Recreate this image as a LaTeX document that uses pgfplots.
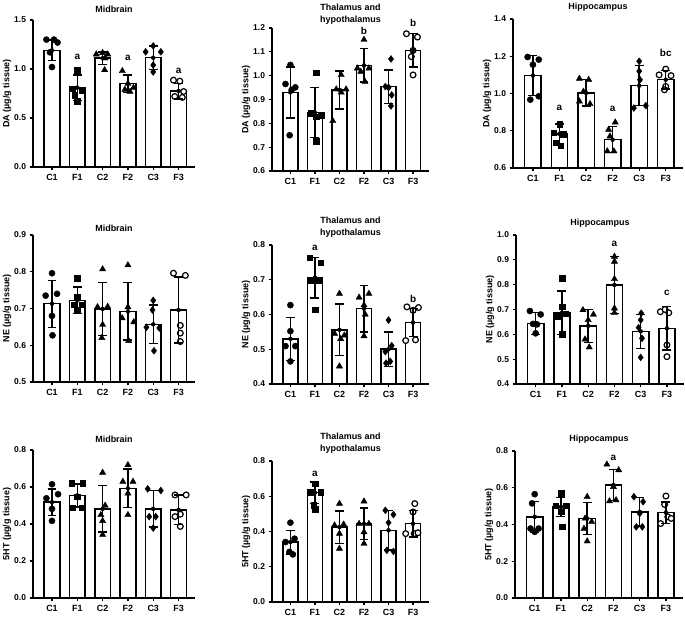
\documentclass[border=0pt]{standalone}
\usepackage{fontspec}
\setmainfont{Liberation Sans}
\usepackage{pgfplots}
\usepackage{pgfplotstable}
\pgfplotsset{compat=1.18}

% bar tables: x mean sd ; point tables: g dx y
\pgfplotstableread{
x y e
0 1.19 0.105
1 0.81 0.13
2 1.11 0.065
3 0.85 0.09
4 1.115 0.12
5 0.775 0.08
}\barsA
\pgfplotstableread{
g dx y
0 -0.22 1.30
0 0.08 1.30
0 0.22 1.27
0 -0.08 1.17
0 0.0 1.02
1 0.0 0.99
1 -0.2 0.80
1 0.2 0.78
1 -0.1 0.73
1 0.0 0.67
2 -0.25 1.15
2 0.0 1.165
2 0.2 1.15
2 0.1 1.11
2 0.08 0.99
3 -0.22 0.98
3 0.0 0.85
3 0.22 0.81
3 -0.12 0.79
3 0.08 0.77
4 0.0 1.235
4 -0.3 1.175
4 0.3 1.175
4 0.0 1.04
4 0.0 0.97
5 -0.2 0.886
5 0.05 0.876
5 0.2 0.77
5 -0.15 0.72
5 0.15 0.71
}\ptsA

\pgfplotstableread{
x y e
0 0.93 0.107
1 0.845 0.105
2 0.94 0.08
3 1.043 0.07
4 0.954 0.07
5 1.106 0.07
}\barsB
\pgfplotstableread{
g dx y
0 0.0 1.045
0 -0.2 0.965
0 0.2 0.951
0 0.05 0.94
0 -0.03 0.75
1 0.04 1.013
1 -0.17 0.842
1 0.25 0.835
1 0.05 0.828
1 0.04 0.726
2 0.07 1.003
2 -0.13 0.943
2 0.27 0.943
2 0.07 0.93
2 -0.27 0.81
3 0.0 1.151
3 -0.27 1.031
3 0.2 1.031
3 -0.13 1.017
3 0.04 0.975
4 0.1 1.07
4 -0.13 0.954
4 0.13 0.919
4 0.1 0.873
4 0.0 0.95
5 -0.27 1.176
5 0.18 1.162
5 0.0 1.106
5 -0.07 1.08
5 0.0 1.003
}\ptsB

\pgfplotstableread{
x y e
0 1.096 0.107
1 0.783 0.053
2 1.003 0.071
3 0.752 0.07
4 1.042 0.107
5 1.074 0.05
}\barsC
\pgfplotstableread{
g dx y
0 -0.2 1.196
0 0.22 1.182
0 0.0 1.155
0 -0.1 0.967
0 0.22 0.985
1 0.0 0.835
1 -0.22 0.79
1 0.15 0.78
1 -0.15 0.735
1 0.05 0.72
2 -0.25 1.08
2 0.1 1.074
2 -0.1 1.01
2 -0.25 0.958
2 0.15 0.944
3 -0.15 0.806
3 0.1 0.845
3 -0.1 0.77
3 -0.2 0.69
3 0.05 0.69
4 0.0 1.173
4 0.0 1.12
4 0.03 1.074
4 -0.2 0.922
4 0.25 0.935
5 0.0 1.131
5 -0.25 1.10
5 0.2 1.096
5 0.0 1.038
5 -0.05 1.02
}\ptsC

\pgfplotstableread{
x y e
0 0.713 0.064
1 0.722 0.036
2 0.699 0.072
3 0.692 0.078
4 0.657 0.052
5 0.696 0.09
}\barsD
\pgfplotstableread{
g dx y
0 0.0 0.796
0 -0.25 0.735
0 0.2 0.74
0 0.0 0.68
0 0.02 0.627
1 0.0 0.782
1 0.0 0.73
1 -0.15 0.71
1 0.17 0.71
1 0.0 0.696
2 0.0 0.807
2 -0.2 0.704
2 0.2 0.705
2 0.0 0.656
2 -0.03 0.62
3 0.0 0.818
3 -0.23 0.674
3 0.0 0.704
3 0.23 0.663
3 0.03 0.612
4 0.0 0.722
4 -0.03 0.696
4 -0.27 0.649
4 0.24 0.647
4 0.03 0.585
5 -0.2 0.796
5 0.27 0.79
5 0.07 0.654
5 0.07 0.633
5 0.07 0.61
}\ptsD

\pgfplotstableread{
x y e
0 0.53 0.062
1 0.706 0.058
2 0.556 0.074
3 0.617 0.067
4 0.5 0.05
5 0.577 0.04
}\barsE
\pgfplotstableread{
g dx y
0 0.0 0.627
0 0.0 0.552
0 -0.2 0.509
0 0.2 0.509
0 0.0 0.465
1 -0.22 0.763
1 0.24 0.749
1 -0.18 0.698
1 0.17 0.698
1 0.0 0.614
2 0.0 0.66
2 -0.2 0.545
2 0.2 0.54
2 0.05 0.53
2 0.0 0.451
3 -0.2 0.649
3 0.2 0.66
3 0.0 0.627
3 0.05 0.60
3 0.0 0.538
4 0.0 0.584
4 0.13 0.51
4 -0.13 0.493
4 0.07 0.465
4 -0.1 0.46
5 -0.25 0.622
5 0.22 0.62
5 0.0 0.612
5 -0.3 0.525
5 0.1 0.527
}\ptsE

\pgfplotstableread{
x y e
0 0.644 0.044
1 0.687 0.088
2 0.634 0.067
3 0.799 0.114
4 0.612 0.068
5 0.624 0.087
}\barsF
\pgfplotstableread{
g dx y
0 -0.22 0.694
0 0.19 0.68
0 -0.1 0.642
0 0.05 0.64
0 0.0 0.604
1 0.0 0.825
1 0.0 0.711
1 -0.16 0.674
1 0.15 0.683
1 0.0 0.601
2 -0.2 0.698
2 0.2 0.68
2 0.0 0.658
2 -0.12 0.58
2 0.04 0.548
3 0.0 0.913
3 0.0 0.893
3 0.0 0.823
3 0.0 0.705
3 0.0 0.687
4 0.02 0.685
4 0.0 0.658
4 -0.08 0.627
4 0.05 0.584
4 0.0 0.507
5 -0.25 0.691
5 0.07 0.687
5 -0.07 0.70
5 0.0 0.557
5 0.0 0.51
}\ptsF

\pgfplotstableread{
x y e
0 0.518 0.072
1 0.554 0.063
2 0.482 0.126
3 0.593 0.105
4 0.482 0.099
5 0.476 0.08
}\barsG
\pgfplotstableread{
g dx y
0 0.0 0.615
0 0.24 0.561
0 -0.22 0.539
0 0.0 0.482
0 0.0 0.417
1 -0.22 0.62
1 0.22 0.62
1 0.0 0.548
1 -0.18 0.489
1 0.18 0.489
2 0.0 0.678
2 0.1 0.50
2 -0.07 0.449
2 0.0 0.417
2 0.0 0.342
3 0.0 0.719
3 -0.2 0.629
3 0.2 0.629
3 0.0 0.566
3 0.0 0.449
4 -0.22 0.59
4 0.3 0.581
4 -0.16 0.44
4 0.1 0.44
4 0.0 0.378
5 -0.14 0.557
5 0.3 0.557
5 0.07 0.453
5 -0.14 0.44
5 0.07 0.387
}\ptsG

\pgfplotstableread{
x y e
0 0.34 0.067
1 0.62 0.06
2 0.425 0.092
3 0.444 0.09
4 0.407 0.113
5 0.444 0.076
}\barsH
\pgfplotstableread{
g dx y
0 0.0 0.45
0 -0.2 0.34
0 0.17 0.359
0 -0.04 0.284
0 0.1 0.27
1 0.0 0.671
1 0.24 0.624
1 -0.2 0.624
1 -0.05 0.548
1 0.0 0.526
2 0.0 0.558
2 -0.2 0.435
2 0.17 0.44
2 0.0 0.388
2 0.0 0.303
3 0.0 0.571
3 -0.2 0.444
3 0.2 0.444
3 0.0 0.397
3 0.0 0.331
4 -0.13 0.52
4 0.2 0.496
4 0.0 0.45
4 -0.07 0.293
4 0.2 0.287
5 0.07 0.558
5 0.0 0.511
5 -0.3 0.388
5 0.05 0.388
5 0.2 0.393
}\ptsH

\pgfplotstableread{
x y e
0 0.442 0.084
1 0.496 0.052
2 0.433 0.088
3 0.615 0.085
4 0.469 0.078
5 0.465 0.058
}\barsI
\pgfplotstableread{
g dx y
0 0.0 0.565
0 -0.1 0.515
0 -0.16 0.378
0 0.15 0.378
0 0.0 0.36
1 0.0 0.569
1 -0.2 0.502
1 0.2 0.502
1 0.0 0.469
1 0.04 0.387
2 0.0 0.551
2 -0.08 0.433
2 0.17 0.415
2 -0.12 0.378
2 0.0 0.309
3 -0.25 0.727
3 0.2 0.696
3 0.0 0.605
3 -0.15 0.527
3 0.1 0.533
4 -0.22 0.551
4 0.13 0.524
4 0.0 0.46
4 -0.13 0.387
4 0.1 0.387
5 0.0 0.555
5 -0.05 0.509
5 0.07 0.442
5 -0.2 0.405
5 0.2 0.433
}\ptsI

\pgfplotsset{
  panel/.style={
    scale only axis, anchor=south west,
    xmin=-0.75, xmax=5.65,
    axis lines=left,
    axis line style={-, line width=1.3pt},
    clip mode=individual,
    xtick={0,1,2,3,4,5},
    xticklabels={C1,F1,C2,F2,C3,F3},
    tick align=outside,
    major tick length=3.5pt,
    tick style={line width=1.3pt, black},
    x tick label style={font=\bfseries\fontsize{9}{10}\selectfont},
    y tick label style={font=\bfseries\fontsize{8.5}{10}\selectfont,
      /pgf/number format/fixed, /pgf/number format/fixed zerofill,
      /pgf/number format/precision=1, /pgf/number format/assume math mode=true},
    ylabel style={font=\bfseries\fontsize{9}{10}\selectfont},
    ylabel shift=-4pt,
    title style={font=\bfseries\fontsize{9}{12}\selectfont, align=center,
      at={(0.5,1)}, anchor=south, yshift=-2pt},
  },
  bars/.style={ybar, bar width=0.62, fill=white, draw=black, line width=1.5pt},
  errs/.style={only marks, mark=none, black,
    error bars/.cd, y dir=both, y explicit,
    error bar style={line width=1.4pt, black},
    error mark options={rotate=90, mark size=4.5pt, line width=1.4pt, black}},
  pts/.style={scatter, only marks, scatter src=explicit symbolic,
    scatter/classes={
      0={mark=*, mark size=3.1pt, draw=black, fill=black},
      1={mark=square*, mark size=2.8pt, draw=black, fill=black},
      2={mark=triangle*, mark size=3.6pt, draw=black, fill=black},
      3={mark=triangle*, mark size=3.6pt, mark options={rotate=180}, draw=black, fill=black},
      4={mark=diamond*, mark size=3.5pt, draw=black, fill=black},
      5={mark=*, mark size=2.9pt, draw=black, fill=white, line width=1.2pt}}},
}
\tikzset{sig/.style={font=\bfseries\fontsize{10}{12}\selectfont}}

\newcommand\drawset[2]{%
  \addplot[bars] table[x=x, y=y] #1;
  \addplot[pts] table[x expr=\thisrow{g}+\thisrow{dx}, y=y, meta=g] #2;
  \addplot[errs] table[x=x, y=y, y error=e] #1;
}

\begin{document}
\begin{tikzpicture}
\useasboundingbox (0,0) rectangle (685bp,618bp);

% row 1: DA
\begin{axis}[panel, at={(33bp,451bp)}, width=162bp, height=147bp,
  ymin=0, ymax=1.5, ytick={0,0.5,1,1.5},
  ylabel={DA (µg/g tissue)}, title={Midbrain}]
\drawset{\barsA}{\ptsA}
\node[sig] at (axis cs:1,1.12) {a};
\node[sig] at (axis cs:3,1.11) {a};
\node[sig] at (axis cs:5,0.98) {a};
\end{axis}

\begin{axis}[panel, at={(272bp,447bp)}, width=157bp, height=143bp,
  ymin=0.6, ymax=1.2, ytick={0.6,0.7,0.8,0.9,1.0,1.1,1.2},
  ylabel={DA (µg/g tissue)}, title={Thalamus and\\hypothalamus},
  title style={yshift=-4pt}]
\drawset{\barsB}{\ptsB}
\node[sig] at (axis cs:3,1.186) {b};
\node[sig] at (axis cs:5,1.221) {b};
\end{axis}

\begin{axis}[panel, at={(513bp,450bp)}, width=170bp, height=149bp,
  ymin=0.6, ymax=1.4, ytick={0.6,0.8,1.0,1.2,1.4},
  ylabel={DA (µg/g tissue)}, title={Hippocampus}]
\drawset{\barsC}{\ptsC}
\node[sig] at (axis cs:1,0.922) {a};
\node[sig] at (axis cs:3,0.917) {a};
\node[sig] at (axis cs:5,1.217) {bc};
\end{axis}

% row 2: NE
\begin{axis}[panel, at={(33bp,236bp)}, width=162bp, height=147bp,
  ymin=0.5, ymax=0.9, ytick={0.5,0.6,0.7,0.8,0.9},
  ylabel={NE (µg/g tissue)}, title={Midbrain},
  title style={yshift=-4pt}]
\drawset{\barsD}{\ptsD}
\end{axis}

\begin{axis}[panel, at={(272bp,234bp)}, width=157bp, height=139bp,
  ymin=0.4, ymax=0.8, ytick={0.4,0.5,0.6,0.7,0.8},
  ylabel={NE (µg/g tissue)}, title={Thalamus and\\hypothalamus}]
\drawset{\barsE}{\ptsE}
\node[sig] at (axis cs:1,0.793) {a};
\node[sig] at (axis cs:5,0.646) {b};
\end{axis}

\begin{axis}[panel, at={(516bp,234bp)}, width=168bp, height=149bp,
  ymin=0.4, ymax=1.0, ytick={0.4,0.5,0.6,0.7,0.8,0.9,1.0},
  ylabel={NE (µg/g tissue)}, title={Hippocampus}]
\drawset{\barsF}{\ptsF}
\node[sig] at (axis cs:3,0.964) {a};
\node[sig] at (axis cs:5,0.768) {c};
\end{axis}

% row 3: 5HT
\begin{axis}[panel, at={(33bp,20bp)}, width=162bp, height=148bp,
  ymin=0, ymax=0.8, ytick={0,0.2,0.4,0.6,0.8},
  ylabel={5HT (µg/g tissue)}, title={Midbrain}]
\drawset{\barsG}{\ptsG}
\end{axis}

\begin{axis}[panel, at={(272bp,16bp)}, width=157bp, height=141bp,
  ymin=0, ymax=0.8, ytick={0,0.2,0.4,0.6,0.8},
  ylabel={5HT (µg/g tissue)}, title={Thalamus and\\hypothalamus}]
\drawset{\barsH}{\ptsH}
\node[sig] at (axis cs:1,0.728) {a};
\end{axis}

\begin{axis}[panel, at={(515bp,20bp)}, width=168bp, height=147bp,
  ymin=0, ymax=0.8, ytick={0,0.2,0.4,0.6,0.8},
  ylabel={5HT (µg/g tissue)}, title={Hippocampus}]
\drawset{\barsI}{\ptsI}
\node[sig] at (axis cs:3,0.764) {a};
\end{axis}
\end{tikzpicture}
\end{document}
